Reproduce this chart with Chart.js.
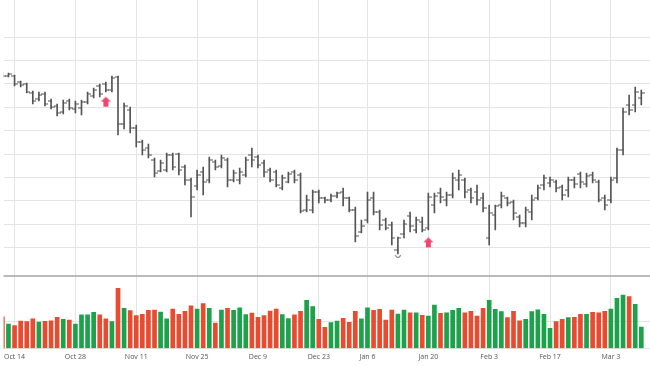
<!DOCTYPE html>
<html><head><meta charset="utf-8">
<script src="https://cdn.jsdelivr.net/npm/chart.js@4.4.1/dist/chart.umd.min.js"></script>
<style>html,body{margin:0;padding:0;background:#fff;overflow:hidden}canvas{display:block}</style>
</head><body>
<canvas id="c" width="650" height="366"></canvas>
<script>
const dates = ['Oct 10','Oct 11','Oct 14','Oct 15','Oct 16','Oct 17','Oct 18','Oct 21','Oct 22','Oct 23','Oct 24','Oct 25','Oct 28','Oct 29','Oct 30','Oct 31',
'Nov 1','Nov 4','Nov 5','Nov 6','Nov 7','Nov 8','Nov 11','Nov 12','Nov 13','Nov 14','Nov 15','Nov 18','Nov 19','Nov 20','Nov 21','Nov 22','Nov 25','Nov 26','Nov 27','Nov 28','Nov 29',
'Dec 2','Dec 3','Dec 4','Dec 5','Dec 6','Dec 9','Dec 10','Dec 11','Dec 12','Dec 13','Dec 16','Dec 17','Dec 18','Dec 19','Dec 20','Dec 23','Dec 24','Dec 26','Dec 27','Dec 30','Dec 31',
'Jan 2','Jan 3','Jan 6','Jan 7','Jan 8','Jan 9','Jan 10','Jan 13','Jan 14','Jan 15','Jan 16','Jan 17','Jan 20','Jan 21','Jan 22','Jan 23','Jan 24','Jan 27','Jan 28','Jan 29','Jan 30','Jan 31',
'Feb 3','Feb 4','Feb 5','Feb 6','Feb 7','Feb 10','Feb 11','Feb 12','Feb 13','Feb 14','Feb 17','Feb 18','Feb 19','Feb 20','Feb 21','Feb 24','Feb 25','Feb 26','Feb 27','Feb 28',
'Mar 3','Mar 4','Mar 5','Mar 6','Mar 7','Mar 10'];

const tickLabels = ['Oct 14','Oct 28','Nov 11','Nov 25','Dec 9','Dec 23','Jan 6','Jan 20','Feb 3','Feb 17','Mar 3'];

const openP = [227.3,226.4,226.4,224.6,224.0,221.3,219.5,221.0,218.9,217.4,215.6,218.9,216.5,216.8,218.6,220.4,223.4,224.0,222.2,226.1,
212.0,216.2,210.8,206.6,204.8,201.2,197.9,198.2,202.7,203.0,199.1,195.2,193.4,197.6,195.2,200.6,199.4,201.2,195.2,195.2,
196.7,202.7,202.1,200.3,198.2,197.6,192.8,194.6,197.6,196.7,186.2,186.2,191.6,189.8,189.2,190.4,191.6,189.8,186.2,179.6,
183.2,189.8,185.6,183.2,181.7,174.2,179.0,184.4,180.2,182.6,180.8,187.7,191.3,189.2,190.7,195.2,195.2,192.2,191.6,189.8,
177.8,184.7,187.7,189.8,188.6,184.1,182.3,185.6,189.8,193.7,194.3,194.6,193.1,192.2,195.2,197.0,194.0,196.7,194.6,189.8,
189.2,195.8,204.2,217.7,217.7,219.8];

const highP = [227.6,227.3,226.7,224.9,224.3,221.9,221.6,221.6,219.5,218.0,219.2,219.5,218.9,219.2,221.6,222.8,224.0,224.6,226.4,226.4,
218.3,217.1,211.7,207.2,206.0,201.8,201.2,203.3,203.3,203.3,199.7,195.8,198.2,199.1,202.1,201.2,202.7,201.8,198.2,198.8,
202.1,204.8,202.7,201.2,198.8,198.2,196.7,197.6,198.2,197.3,190.7,192.2,192.2,190.1,191.0,191.6,192.8,190.1,187.1,183.2,
191.6,191.6,186.2,183.8,182.6,178.1,183.2,185.6,184.1,184.1,191.3,191.3,192.8,191.6,197.3,198.2,195.8,192.8,193.7,191.3,
187.7,187.7,191.6,190.1,189.2,184.7,187.1,190.7,193.7,196.7,196.1,195.2,193.7,196.1,196.1,197.6,197.3,197.6,195.2,190.7,
196.1,204.8,216.8,220.7,223.1,222.2];

const lowP = [225.8,226.1,223.4,223.1,221.3,218.0,218.9,217.4,216.5,214.4,215.0,216.2,215.3,214.7,218.0,219.8,220.1,221.6,221.6,208.7,
210.5,209.3,205.1,202.7,201.8,196.1,197.6,197.6,198.2,196.7,193.7,184.1,192.2,190.7,194.3,198.2,198.8,193.1,194.6,194.0,
196.1,199.1,198.8,196.1,194.6,193.1,192.2,194.3,194.3,185.3,185.6,185.3,188.3,188.3,188.6,189.8,187.4,185.6,176.6,179.3,
182.3,184.7,180.2,180.2,175.7,173.0,177.8,179.6,179.3,179.6,180.2,185.3,188.3,187.4,189.8,192.2,189.8,188.3,187.7,185.6,
175.7,180.2,186.8,187.4,183.2,181.1,181.1,183.2,189.2,192.2,193.1,191.6,189.2,190.1,192.8,192.8,193.1,194.3,188.6,186.2,
188.3,194.3,202.7,214.7,215.6,217.7];

const closeP = [226.4,227.0,224.0,223.7,221.6,218.9,220.7,218.0,217.1,215.3,218.3,216.8,218.0,218.6,221.0,222.2,221.0,222.2,225.8,212.0,
217.4,210.8,206.6,204.2,202.7,197.3,200.3,202.7,199.1,198.2,195.2,190.1,196.7,194.6,201.2,199.1,201.8,195.2,197.3,197.6,
201.2,201.2,199.7,197.6,195.2,193.7,195.8,197.0,195.2,185.9,189.2,191.6,189.8,189.2,190.4,191.3,189.8,186.2,178.4,181.4,
189.2,185.6,181.7,180.8,177.8,177.8,182.0,181.4,183.2,180.2,190.1,190.4,190.1,190.7,195.8,196.7,191.6,189.8,189.2,186.8,
185.3,187.4,190.4,188.3,185.3,182.3,186.2,189.2,192.8,195.8,195.2,192.8,190.7,195.2,194.0,194.6,196.4,195.2,189.2,187.7,
195.2,204.2,215.6,216.2,221.6,221.3];

const volumeM = [23.1,17.8,16.6,20.0,19.5,21.5,19.3,19.8,20.2,22.7,21.2,20.7,17.8,24.4,24.4,26.3,24.4,21.5,19.5,43.8,
29.2,27.5,23.9,24.9,27.8,28.0,26.5,21.5,28.7,24.9,27.1,31.1,28.7,32.6,29.2,18.5,28.0,29.2,27.8,29.5,
24.6,25.8,22.7,23.9,27.3,28.7,24.6,21.7,24.4,27.1,35.1,30.4,21.2,15.4,18.8,20.0,22.0,19.1,27.1,21.5,
29.5,27.8,28.5,20.7,28.0,25.1,28.0,26.0,26.0,24.1,23.6,31.6,25.6,26.0,27.8,29.2,26.0,27.1,23.6,29.2,
35.1,28.5,26.8,22.4,27.1,20.2,21.2,26.8,28.2,24.9,14.7,19.5,21.2,22.4,22.7,24.9,24.9,26.3,26.0,27.1,
28.7,36.5,38.9,37.7,32.1,15.6];

const signalDates = ['Nov 4','Jan 20'];
const signalPrices = [220.2, 178.0];
const markDates = ['Jan 13'];
const markPrices = [172.6];

const UP = '#1ba24b', DOWN = '#e84b2f', BAR = '#555555', GRID = '#e4e4e4';

function img(w, h, draw){ const c = document.createElement('canvas'); c.width = w; c.height = h; draw(c.getContext('2d')); return c; }
const openTick = img(7, 3, g => { g.fillStyle = BAR; g.fillRect(0, 1, 4, 1); });
const closeTick = img(7, 3, g => { g.fillStyle = BAR; g.fillRect(3, 1, 4, 1); });
const arrowImg = img(11, 22, g => {
  g.fillStyle = '#ef4770';
  g.beginPath(); g.moveTo(5.5, 11); g.lineTo(10.5, 16); g.lineTo(0.5, 16); g.closePath(); g.fill();
  g.fillRect(3, 16, 5, 5);
});
const markImg = img(8, 9, g => {
  g.strokeStyle = '#555'; g.lineWidth = 1;
  g.beginPath(); g.arc(4, 4, 2.5, 0.1, Math.PI - 0.1); g.stroke();
});

const idx = dates.map((d, i) => i);

const sepPlugin = {
  id: 'sep',
  afterDraw(chart) {
    const {ctx, chartArea, scales} = chart;
    const y = scales.y2.top;
    ctx.save();
    ctx.strokeStyle = '#a5a5a5'; ctx.lineWidth = 1.6;
    ctx.beginPath(); ctx.moveTo(chartArea.left, y); ctx.lineTo(chartArea.right, y); ctx.stroke();
    ctx.restore();
  }
};

new Chart(document.getElementById('c'), {
  type: 'bar',
  data: {
    datasets: [
      { type: 'scatter', label: 'signal', data: signalDates.map((d, k) => ({x: dates.indexOf(d), y: signalPrices[k]})),
        pointStyle: arrowImg, yAxisID: 'y', xAxisID: 'x' },
      { type: 'scatter', label: 'mark', data: markDates.map((d, k) => ({x: dates.indexOf(d), y: markPrices[k]})),
        pointStyle: markImg, yAxisID: 'y', xAxisID: 'x' },
      { type: 'scatter', label: 'open', data: idx.map(i => ({x: i, y: openP[i]})), pointStyle: openTick, yAxisID: 'y', xAxisID: 'x' },
      { type: 'scatter', label: 'close', data: idx.map(i => ({x: i, y: closeP[i]})), pointStyle: closeTick, yAxisID: 'y', xAxisID: 'x' },
      { type: 'bar', label: 'range', data: idx.map(i => ({x: i, y: [lowP[i], highP[i]]})), backgroundColor: BAR,
        barThickness: 1, grouped: false, yAxisID: 'y', xAxisID: 'x', borderWidth: 0 },
      { type: 'bar', label: 'volume', data: idx.map(i => ({x: i, y: volumeM[i]})),
        backgroundColor: idx.map(i => closeP[i] >= openP[i] ? UP : DOWN),
        barThickness: 4, grouped: false, yAxisID: 'y2', xAxisID: 'x', borderWidth: 0 }
    ]
  },
  options: {
    responsive: false, animation: false, devicePixelRatio: 1,
    layout: { autoPadding: false, padding: { left: 0, right: 0, top: 0, bottom: 1.1 } },
    plugins: { legend: { display: false }, tooltip: { enabled: false } },
    elements: { point: { radius: 3 } },
    scales: {
      x: {
        type: 'linear', position: 'bottom', min: 0.2, max: 106.43, offset: false,
        afterBuildTicks: s => { s.ticks = tickLabels.map(l => ({value: dates.indexOf(l)})); },
        ticks: { callback: v => dates[v], autoSkip: false, maxRotation: 0, padding: 4,
                 font: { size: 7, family: 'Open Sans' }, color: '#555' },
        grid: { color: GRID, drawTicks: false, offset: false },
        border: { display: true, color: GRID }
      },
      y2: {
        position: 'left', stack: 'panes', stackWeight: 72.5, min: 0, max: 52.73, offset: false,
        ticks: { display: false, stepSize: 20 },
        grid: { drawTicks: false, color: c => (c.tick.value > 0 && c.tick.value % 20 === 0) ? GRID : 'rgba(0,0,0,0)' },
        border: { display: false }
      },
      y: {
        position: 'left', stack: 'panes', stackWeight: 276, min: 166.4, max: 249.2, offset: false,
        ticks: { display: false, stepSize: 7 },
        grid: { drawTicks: false, color: c => (Math.abs(c.tick.value / 7 - Math.round(c.tick.value / 7)) < 1e-6) ? GRID : 'rgba(0,0,0,0)' },
        border: { display: false }
      }
    }
  },
  plugins: [sepPlugin]
});
</script>
</body></html>
